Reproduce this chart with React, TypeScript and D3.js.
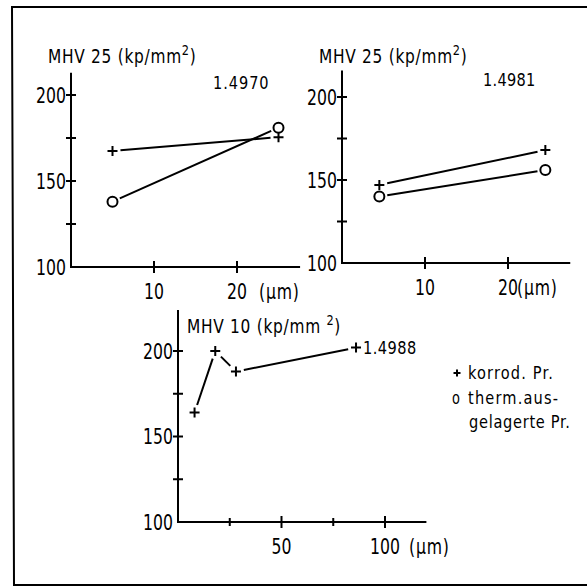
import * as d3 from 'd3';
import React from 'react';

const W = 587;
const H = 587;
const FONT = "'DejaVu Sans Condensed', 'DejaVu Sans', sans-serif";

// sample 1.4970, MHV 25 over depth (µm)
const p1Depth = [5, 25];
const p1Korrod = [167.5, 175.5];
const p1Therm = [138, 181];

// sample 1.4981, MHV 25
const p2Depth = [4.5, 24.5];
const p2Korrod = [147, 168];
const p2Therm = [140, 156];

// sample 1.4988, MHV 10 (only corroded)
const p3Depth = [8, 18, 28, 86];
const p3Korrod = [164, 200, 188, 202];

const yTicks = [125, 150, 175, 200];
const yTickLabels = [100, 150, 200];
const xTicksSmall = [10, 20];
const xTicksBig = [25, 50, 75, 100];
const xTickLabelsBig = [50, 100];

type Scale = d3.ScaleLinear<number, number>;

// line between marks, cut short near each marker like the drawing
function gapSegments(xs: number[], ys: number[], gap: number) {
  const out: [number, number, number, number][] = [];
  for (let i = 0; i < xs.length - 1; i++) {
    const dx = xs[i + 1] - xs[i];
    const dy = ys[i + 1] - ys[i];
    const len = Math.hypot(dx, dy);
    const ux = dx / len, uy = dy / len;
    out.push([xs[i] + ux * gap, ys[i] + uy * gap, xs[i + 1] - ux * gap, ys[i + 1] - uy * gap]);
  }
  return out;
}

// narrow, tall lettering like the stencil font of the original
function Txt({ x, y, size, sx = 0.83, anchor = 'start', ls = 0, children }: {
  x: number; y: number; size: number; sx?: number; anchor?: string; ls?: number; children: React.ReactNode;
}) {
  return (
    <text transform={`translate(${x},${y}) scale(${sx},1)`} fontFamily={FONT} fontSize={size}
      textAnchor={anchor} letterSpacing={ls} fill="#000">
      {children}
    </text>
  );
}

function Plus({ x, y, s = 5 }: { x: number; y: number; s?: number }) {
  return <path d={`M${x - s},${y}H${x + s}M${x},${y - s}V${y + s}`} stroke="#000" strokeWidth={2} fill="none" />;
}

function Circle({ x, y }: { x: number; y: number }) {
  return <circle cx={x} cy={y} r={5} stroke="#000" strokeWidth={2} fill="none" />;
}

function Series({ xs, ys, x, y, mark }: { xs: number[]; ys: number[]; x: Scale; y: Scale; mark: 'plus' | 'circle' }) {
  const px = xs.map((d) => x(d));
  const py = ys.map((d) => y(d));
  return (
    <g>
      {gapSegments(px, py, 8).map((s, i) => (
        <line key={i} x1={s[0]} y1={s[1]} x2={s[2]} y2={s[3]} stroke="#000" strokeWidth={2} />
      ))}
      {px.map((cx, i) => (mark === 'plus' ? <Plus key={i} x={cx} y={py[i]} /> : <Circle key={i} x={cx} y={py[i]} />))}
    </g>
  );
}

function Axes({ x, y, xEnd, yTop, xTicks, minorX, xLabels, unitDx }: {
  x: Scale; y: Scale; xEnd: number; yTop: number; xTicks: number[]; minorX: number[];
  xLabels: number[]; unitDx: number;
}) {
  const x0 = x(0);
  const y0 = y(100);
  const last = xLabels[xLabels.length - 1];
  return (
    <g>
      <path d={`M${x0},${y(yTop)}V${y0}H${x(xEnd)}`} stroke="#000" strokeWidth={2} fill="none" />
      {yTicks.map((t) => (
        <line key={t} x1={x0 - 5} x2={x0 + 5} y1={y(t)} y2={y(t)} stroke="#000" strokeWidth={2} />
      ))}
      {yTickLabels.map((t) => (
        <Txt key={t} x={x0 - 5} y={y(t) + 7.5} size={21} anchor="end">{t}</Txt>
      ))}
      {xTicks.map((t) => {
        const s = minorX.includes(t) ? 4 : 6;
        return <line key={t} x1={x(t)} x2={x(t)} y1={y0 - s} y2={y0 + s} stroke="#000" strokeWidth={2} />;
      })}
      {xLabels.map((t) => (
        <Txt key={t} x={x(t)} y={y0 + 32} size={21} anchor="middle">{t}</Txt>
      ))}
      <Txt x={x(last) + unitDx} y={y0 + 32} size={21} ls={1}>(μm)</Txt>
    </g>
  );
}

function Title({ x, y, text }: { x: number; y: number; text: string }) {
  return (
    <Txt x={x} y={y} size={19} sx={0.9} ls={0.8}>
      {text}
      <tspan dy={-8} fontSize={14}>2</tspan>
      <tspan dy={8}>)</tspan>
    </Txt>
  );
}

export default function App() {
  // panel 1
  const x1 = d3.scaleLinear().domain([0, 20]).range([71, 237]);
  const y1 = d3.scaleLinear().domain([100, 200]).range([267, 95]);
  // panel 2
  const x2 = d3.scaleLinear().domain([0, 20]).range([342, 508]);
  const y2 = d3.scaleLinear().domain([100, 200]).range([263, 97]);
  // panel 3
  const x3 = d3.scaleLinear().domain([0, 100]).range([178, 385]);
  const y3 = d3.scaleLinear().domain([100, 200]).range([522, 351]);

  const lastX = x3(p3Depth[p3Depth.length - 1]);
  const lastY = y3(p3Korrod[p3Korrod.length - 1]);

  return (
    <svg width={W} height={H} style={{ position: 'absolute', left: 0, top: 0, background: '#fff' }}>
      <rect width={W} height={H} fill="#fff" />
      {/* frame */}
      <path d="M587,7H12L14,585H587" stroke="#000" strokeWidth={2} fill="none" />

      {/* panel 1.4970 */}
      <Title x={48} y={63} text="MHV 25 (kp/mm" />
      <Txt x={213} y={89} size={17} sx={0.95} ls={1}>1.4970</Txt>
      <Axes x={x1} y={y1} xEnd={27.6} yTop={213} xTicks={xTicksSmall} minorX={[]} xLabels={xTicksSmall} unitDx={22} />
      <Series xs={p1Depth} ys={p1Korrod} x={x1} y={y1} mark="plus" />
      <Series xs={p1Depth} ys={p1Therm} x={x1} y={y1} mark="circle" />

      {/* panel 1.4981 */}
      <Title x={319} y={63} text="MHV 25 (kp/mm" />
      <Txt x={483} y={86} size={17} sx={0.95} ls={0.3}>1.4981</Txt>
      <Axes x={x2} y={y2} xEnd={27.5} yTop={216} xTicks={xTicksSmall} minorX={[]} xLabels={xTicksSmall} unitDx={9} />
      <Series xs={p2Depth} ys={p2Korrod} x={x2} y={y2} mark="plus" />
      <Series xs={p2Depth} ys={p2Therm} x={x2} y={y2} mark="circle" />

      {/* panel 1.4988 */}
      <Title x={187} y={333} text="MHV 10 (kp/mm " />
      <Axes x={x3} y={y3} xEnd={120} yTop={224} xTicks={xTicksBig} minorX={[25, 75]} xLabels={xTickLabelsBig} unitDx={24} />
      <Series xs={p3Depth} ys={p3Korrod} x={x3} y={y3} mark="plus" />
      <Txt x={lastX + 7} y={lastY + 6} size={18} sx={0.9} ls={0.5}>1.4988</Txt>

      {/* legend */}
      <Plus x={457} y={373} s={3.5} />
      <Txt x={468} y={379} size={18} sx={0.9} ls={1.3}>korrod. Pr.</Txt>
      <Txt x={452} y={404} size={18} sx={0.8}>o</Txt>
      <Txt x={468} y={404} size={18} sx={0.9} ls={1.3}>therm.aus-</Txt>
      <Txt x={469} y={428} size={18} sx={0.9} ls={0.8}>gelagerte Pr.</Txt>
    </svg>
  );
}
